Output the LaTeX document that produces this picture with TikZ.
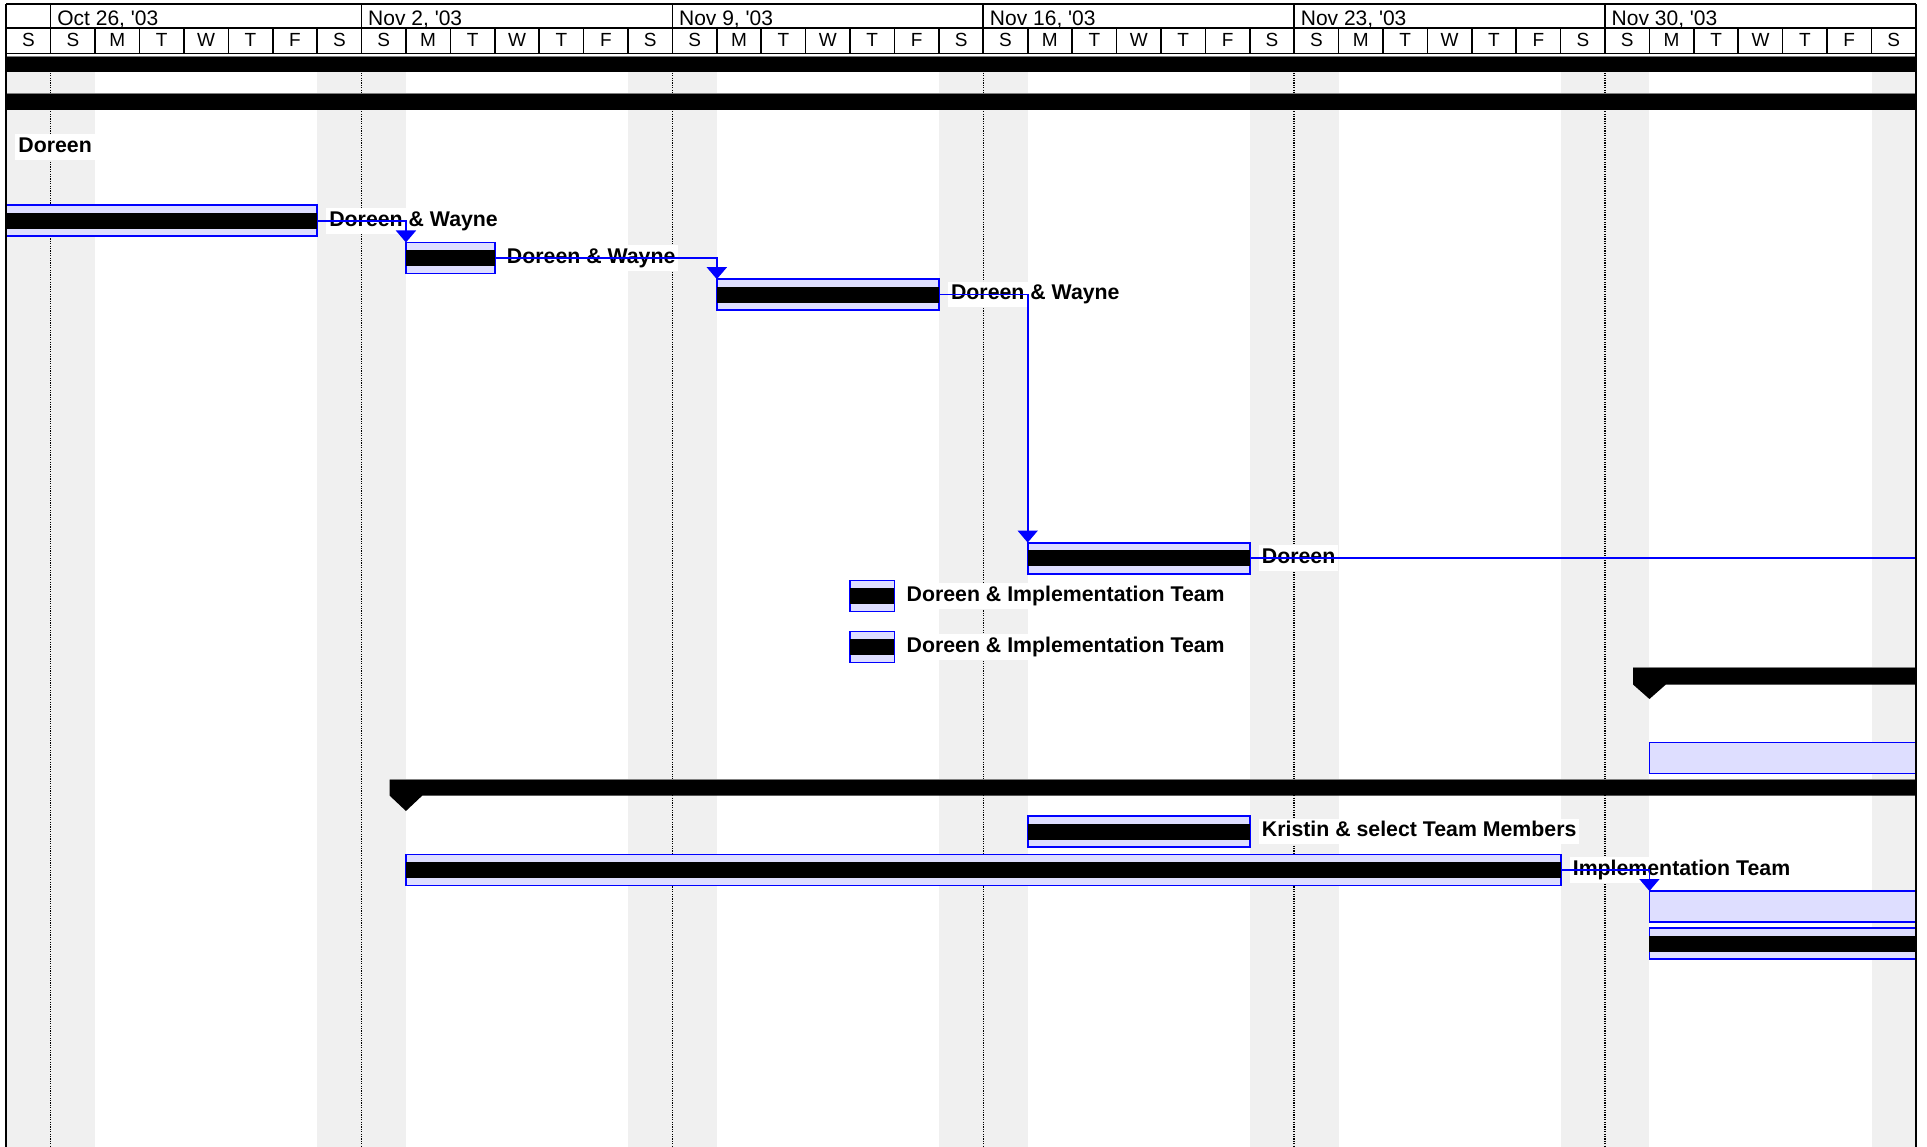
\documentclass[tikz,border=0pt]{standalone}
\usepackage{fontspec}
\setmainfont{Liberation Sans}
\usetikzlibrary{positioning,arrows.meta}

\definecolor{weekend}{RGB}{240,240,240}
\definecolor{barfill}{RGB}{222,222,255}
\definecolor{linkblue}{RGB}{0,0,255}
\definecolor{sumtop}{RGB}{128,128,128}
\newcommand{\dw}{44.41pt}

\tikzset{
  taskbar/.style={draw=linkblue, fill=barfill, line width=1.8pt, inner sep=0pt, outer sep=0pt, minimum height=31pt, anchor=north west},
  done/.style={fill=black},
  lbl/.style={fill=white, font=\fontsize{21.3}{25}\selectfont\bfseries, inner xsep=3pt, inner ysep=3pt, text height=15pt, text depth=4.5pt},
  link/.style={draw=linkblue, line width=1.6pt},
  linkarr/.style={link, -{Triangle[width=20pt,length=12pt]}},
  summary/.style={fill=black},
  sumedge/.style={draw=sumtop, line width=1pt},
  hdr/.style={line width=1.6pt},
  wkline/.style={line width=1.4pt, dash pattern=on 1.2pt off 1.2pt},
  wkl/.style={font=\fontsize{21}{24}\selectfont, inner sep=0pt, anchor=base west},
  dayl/.style={font=\fontsize{19}{22}\selectfont, inner sep=0pt, anchor=base}
}

\begin{document}
\begin{tikzpicture}[x=44.41pt, y=-1pt]
    \useasboundingbox (-0.141,0) rectangle (43.25,1147);
    \coordinate (rgt) at (43,0);
    % weekends and week lines
    \foreach \d in {0,7,...,35} \fill[weekend] (\d,56) rectangle (\d+2,1147);
    \fill[weekend] (42,56) rectangle (43,1147);
    \foreach \d in {1,8,...,36} \draw[wkline] (\d,56) -- (\d,1147);
    % timescale
    \draw[hdr] (0,4) -- (43,4);
    \draw[hdr] (0,28) -- (43,28);
    \draw[hdr] (0,53.5) -- (43,53.5);
    \foreach \d in {1,8,...,36} \draw[hdr] (\d,4) -- (\d,28);
    \foreach \d in {1,...,42} \draw[hdr] (\d,28) -- (\d,53.5);
    \foreach \lab [count=\i from 0] in {{Oct 26, \textquotesingle03},{Nov 2, \textquotesingle03},{Nov 9, \textquotesingle03},{Nov 16, \textquotesingle03},{Nov 23, \textquotesingle03},{Nov 30, \textquotesingle03}}
      \node[wkl] (wk\i) at ([xshift=6.5pt]1+7*\i,26) {\lab};
    \foreach \w in {0,...,5}
      \foreach \l [count=\k from 0] in {S,S,M,T,W,T,F}
        \node[dayl] (day\w\k) at (7*\w+\k+0.5,46.5) {\l};
    \node[dayl] (day60) at (42.5,46.5) {S};
    % summary bars
    \fill[summary] (0,56.5) rectangle (43,72.5);
    \draw[sumedge] (0,56.5) -- (43,56.5);
    \fill[summary] (0,94) rectangle (43,110);
    \draw[sumedge] (0,94) -- (43,94);
    \fill[summary] (36.63,667.5) -- (43,667.5) -- (43,684.5) -- (37.37,684.5) -- (37,699) -- (36.63,684.5) -- cycle;
    \draw[sumedge] (36.63,667.5) -- (43,667.5);
    \fill[summary] (8.63,779.5) -- (43,779.5) -- (43,795.5) -- (9.37,795.5) -- (9,811) -- (8.63,795.5) -- cycle;
    \draw[sumedge] (8.63,779.5) -- (43,779.5);
    % tasks
    \node[taskbar, minimum width=7*\dw] (tA) at (0,205.3) {};
    \node[taskbar, minimum width=2*\dw] (tB) at (9,242.5) {};
    \node[taskbar, minimum width=5*\dw] (tC) at (16,279.2) {};
    \node[taskbar, minimum width=5*\dw] (tD) at (23,542.6) {};
    \node[taskbar, minimum width=1*\dw] (tE) at (19,580.5) {};
    \node[taskbar, minimum width=1*\dw] (tF) at (19,631.5) {};
    \node[taskbar, minimum width=6*\dw] (tG) at (37,742.5) {};
    \node[taskbar, minimum width=5*\dw] (tH) at (23,816) {};
    \node[taskbar, minimum width=26*\dw] (tI) at (9,854.5) {};
    \node[taskbar, minimum width=6*\dw] (tJ) at (37,891) {};
    \node[taskbar, minimum width=6*\dw] (tK) at (37,928.3) {};
    \foreach \t in {tA,tB,tC,tD,tE,tF,tH,tI,tK}
      \fill[done] ([yshift=-7.5pt]\t.north west) rectangle ([yshift=7.5pt]\t.south east);
    % resource names
    \node[lbl, anchor=west] (lTop) at ([xshift=9pt]0,147) {Doreen};
    \node[lbl, right=9pt of tA] (lA) {Doreen \& Wayne};
    \node[lbl, right=9pt of tB] (lB) {Doreen \& Wayne};
    \node[lbl, right=9pt of tC] (lC) {Doreen \& Wayne};
    \node[lbl, right=9pt of tD] (lD) {Doreen};
    \node[lbl, right=9pt of tE] (lE) {Doreen \& Implementation Team};
    \node[lbl, right=9pt of tF] (lF) {Doreen \& Implementation Team};
    \node[lbl, right=9pt of tH] (lH) {Kristin \& select Team Members};
    \node[lbl, right=9pt of tI] (lI) {Implementation Team};
    % links
    \draw[linkarr] (tA.east) -| (tB.north west);
    \draw[linkarr] (tB.east) -| (tC.north west);
    \draw[linkarr] (tC.east) -| (tD.north west);
    \draw[link] (tD.east) -- (tD.east -| rgt);
    \draw[linkarr] (tI.east) -| (tJ.north west);
    % frame
    \draw[line width=2.4pt] (0,4) -- (0,1147);
    \draw[line width=2.4pt] (rgt |- 0,4) -- (rgt |- 0,1147);
\end{tikzpicture}
\end{document}
